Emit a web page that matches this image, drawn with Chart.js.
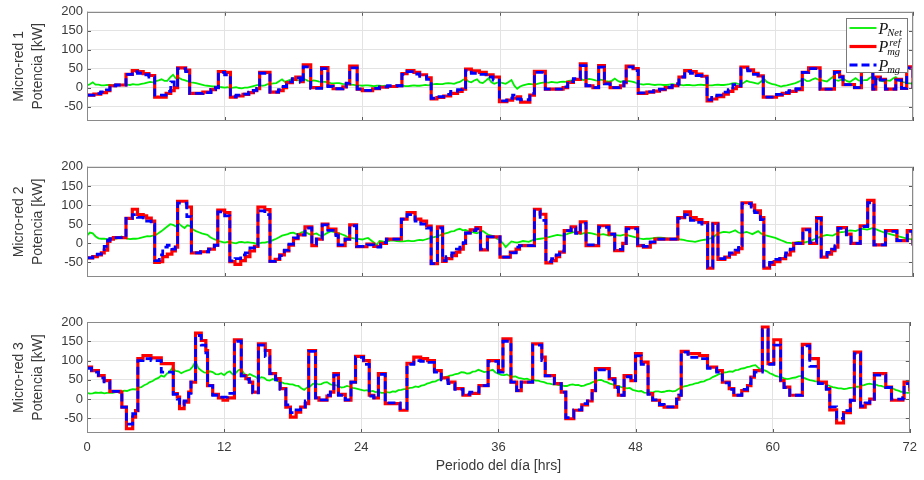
<!DOCTYPE html>
<html>
<head>
<meta charset="utf-8">
<script src="https://cdn.jsdelivr.net/npm/chart.js@4/dist/chart.umd.min.js"></script>
<style>
  html, body { margin: 0; padding: 0; background: #ffffff; }
  #wrap { position: relative; width: 924px; height: 480px; }
  #wrap canvas { position: absolute; left: 0; }
</style>
</head>
<body>
<div id="wrap">
  <canvas id="mg1" width="924" height="155" style="top:0px"></canvas>
  <canvas id="mg2" width="924" height="155" style="top:155px"></canvas>
  <canvas id="mg3" width="924" height="170" style="top:310px"></canvas>
</div>
<script>
// ---------------- data ----------------
// Axis ticks
const hourTicks = [0, 12, 24, 36, 48, 60, 72];
const powerTicks = [-50, 0, 50, 100, 150, 200];
const netSampleHrs = 0.25;          // P_Net sampled every quarter hour

// Micro-red 1: switching instants [h], reference and measured power [kW]
const mg1Time = [0,0.6,1.2,1.7,2.0,2.5,3.4,3.95,4.4,4.9,
  5.4,5.9,6.9,7.3,7.6,7.9,8.6,8.95,10.1,10.8,
  11.2,11.45,12.0,12.5,13.0,13.6,14.1,14.5,14.8,15.05,
  15.95,16.7,17.1,17.4,17.9,18.2,18.6,18.85,19.5,20.45,
  21.0,21.45,22.3,22.6,22.9,23.55,24.0,24.9,25.5,26.2,
  27.0,27.45,27.9,28.5,29.0,29.6,30.0,30.5,31.1,31.7,
  32.3,32.7,33.0,33.5,34.2,34.8,35.4,35.95,36.6,37.1,
  37.5,37.8,38.6,39.0,39.95,41.5,41.9,42.4,43.0,43.5,
  44.1,44.6,45.1,45.6,46.5,46.8,47.0,47.6,48.05,48.8,
  49.4,49.9,50.4,51.0,51.5,51.6,52.1,52.6,53.1,53.6,
  54.05,54.45,54.9,55.5,55.9,56.3,56.6,57.0,57.6,58.1,
  58.5,58.95,60.1,60.6,61.2,61.8,62.35,62.9,63.9,65.15,
  65.6,65.9,66.9,67.5,68.5,68.75,69.15,69.6,70.5,71.0,
  71.45,72];
const mg1Ref = [-20,-17,-13,-8,5,7,35,45,42,37,
  32,-25,-15,-8,0,52,46,-15,-12,-5,
  0,42,40,-25,-22,-18,-13,-8,-3,40,
  -12,-8,0,13,22,28,16,60,0,53,
  5,-3,2,10,57,-4,-8,-3,1,3,
  5,37,45,40,34,26,-30,-26,-22,-15,
  -10,-4,49,44,40,34,28,-37,-33,-28,
  -24,-38,-20,43,-4,0,14,22,63,5,
  0,58,12,0,5,13,57,50,-15,-12,
  -9,-5,0,5,10,28,45,42,36,30,
  -35,-30,-24,-17,-10,-3,3,54,47,38,
  31,-25,-20,-15,-10,-5,40,52,-4,42,
  30,8,0,43,-4,28,22,-4,22,-2,
  55,-3];
const mg1Pmg = [-20,-16,-11,-6,5,7,35,42,38,34,
  28,-20,-10,15,2,50,42,-15,-13,-5,
  0,40,34,-24,-20,-17,-12,-7,-2,38,
  -12,-5,3,15,24,26,14,55,-2,50,
  3,-3,2,12,52,-4,-7,-2,2,5,
  5,35,42,36,30,22,-28,-24,-18,-10,
  -5,0,45,38,35,28,20,-35,-28,-20,
  -30,-32,-15,40,-4,2,16,24,58,5,
  0,54,10,0,5,15,55,45,-14,-11,
  -8,-4,1,6,10,28,43,38,32,26,
  -32,-26,-20,-12,-5,8,5,50,44,35,
  28,-25,-18,-13,-8,-3,40,50,-4,40,
  28,8,0,42,-4,26,20,-4,20,-2,
  52,-3];
const mg1Net = [
  6,9,14,8,8,6,6,7,  7,6,8,7,7,8,8,7,  9,8,8,10,11,13,15,14,
  17,19,22,18,18,27,34,24,  26,22,20,17,14,13,12,10,  8,6,5,4,3,3,2,1,
  0,1,-1,0,1,-1,-2,0,  0,2,4,6,8,5,6,9,  10,11,12,17,22,15,18,21,
  25,19,20,23,22,18,17,19,  18,16,15,15,14,12,11,12,  12,10,9,9,8,7,6,6,
  5,6,6,5,4,5,5,4,  5,4,3,4,5,6,5,4,  4,5,6,5,5,6,7,6,
  8,9,10,9,9,11,12,11,  10,13,15,20,24,16,14,19,  22,14,12,18,25,14,10,13,
  14,12,10,15,20,5,-3,3,  6,8,10,9,8,10,12,13,  14,13,15,14,13,15,16,15,
  18,19,20,22,24,20,21,23,  22,20,18,21,20,17,16,18,  24,18,15,17,18,17,16,14,
  10,9,8,9,9,8,7,8,  8,7,7,8,9,8,8,7,  6,7,7,6,6,7,8,7,
  7,6,6,7,8,7,7,8,  9,11,12,10,8,13,18,15,  14,12,10,16,24,15,12,9,
  8,5,3,5,6,8,10,12,  15,19,22,17,18,22,25,21,  20,18,16,22,28,20,18,21,
  22,17,15,20,25,19,18,20,  20,26,30,24,22,18,16,19,  18,24,28,19,15,14,12,11,
  10];

// Micro-red 2
const mg2Time = [0,0.5,0.9,1.25,1.5,1.8,2.0,2.3,3.4,3.95,
  4.4,4.9,5.2,5.6,5.9,6.3,6.6,7.0,7.4,7.7,
  7.9,8.7,9.1,9.9,10.6,11.1,11.4,12.0,12.45,12.9,
  13.4,13.8,14.2,14.6,14.9,15.5,15.95,16.4,16.8,17.2,
  17.6,18.0,18.4,19.0,19.6,20.0,20.5,21.0,21.7,21.9,
  22.5,22.9,23.5,24.4,25.0,25.6,26.1,27.4,27.9,28.6,
  29.1,29.6,30.0,30.55,31.0,31.3,31.8,32.2,32.5,32.8,
  33.0,33.4,33.9,34.3,34.9,36.0,36.9,37.4,37.7,39.0,
  39.5,40.0,40.5,40.9,41.2,41.6,42.2,42.6,43.0,43.5,
  44.6,45.5,46.0,46.7,47.0,48.0,48.5,49.1,49.5,51.5,
  52.1,52.6,53.1,53.6,54.1,54.55,55.0,55.6,56.0,56.5,
  56.8,57.1,57.9,58.2,58.7,59.0,59.5,59.9,60.4,60.9,
  61.3,61.6,62.4,63.0,63.6,64.0,64.5,64.9,65.2,65.45,
  66.2,66.6,67.4,68.05,68.6,69.6,70.6,71.5,72];
const mg2Ref = [-38,-35,-30,-25,-18,5,11,15,65,89,
  75,72,66,58,-50,-48,-35,-28,-20,-10,
  110,95,-25,-22,-15,-5,87,80,-48,-55,
  -45,-35,-20,-8,95,88,-47,-42,-30,-20,
  -5,12,22,43,-6,11,50,37,24,-6,
  11,48,-9,-2,-8,0,11,63,80,63,
  58,45,-53,43,-47,-40,-32,-23,-15,0,
  27,35,41,-17,17,-36,-23,-15,-6,89,
  76,-51,-45,-35,-23,33,43,28,56,-6,
  46,24,-19,0,41,-6,-10,2,11,67,
  82,67,62,54,-65,52,-42,-36,-28,-23,
  -14,106,100,85,67,-65,-55,-48,-40,-30,
  -20,0,37,0,67,-36,-28,-19,-10,41,
  24,0,46,112,-4,33,7,33,-6];
const mg2Pmg = [-38,-30,-28,-22,-8,8,12,15,65,75,
  68,63,58,50,-45,-30,-10,-5,-15,-5,
  105,70,-25,-22,-15,-5,82,72,-46,-40,
  -30,-25,-12,-5,85,75,-47,-40,-32,-18,
  -2,14,22,40,-2,11,48,34,20,-4,
  11,46,-8,-4,-10,2,11,63,75,58,
  50,40,-53,40,-45,-35,-25,-15,-10,2,
  27,33,38,-15,17,-36,-25,-10,-6,85,
  60,-48,-40,-30,-20,33,40,26,52,-4,
  42,24,-16,0,38,-6,-8,4,11,65,
  75,60,55,50,-62,50,-40,-32,-25,-18,
  -5,104,85,80,62,-60,-50,-42,-35,-25,
  -15,0,35,2,65,-34,-24,-15,-6,39,
  22,0,44,106,-4,31,7,31,-6];
const mg2Net = [
  20,28,26,18,13,12,12,11,  11,13,12,14,18,15,12,11,  12,12,13,15,17,19,18,20,
  22,27,32,38,44,50,48,44,  52,45,40,47,45,36,32,29,  26,24,22,16,12,9,6,4,
  2,4,3,1,0,3,4,2,  3,2,1,-1,0,2,2,4,  5,9,12,16,20,22,24,27,
  28,24,25,29,30,26,22,24,  26,21,18,24,28,32,30,27,  26,23,20,16,14,13,12,11,
  10,12,14,8,2,-4,6,5,  4,6,8,7,6,5,5,6,  7,6,6,8,9,8,10,12,
  14,16,18,21,24,26,28,31,  32,36,38,34,35,32,30,28,  26,30,32,27,22,20,18,12,
  8,0,-10,-2,5,3,2,4,  6,5,4,7,10,11,12,13,  14,16,18,20,22,21,20,23,
  26,28,30,27,24,26,28,27,  26,24,22,23,24,22,20,21,  22,21,20,22,23,20,18,16,
  14,12,11,12,12,13,14,15,  15,14,13,12,11,12,12,10,  9,7,6,5,4,6,8,9,
  10,12,14,20,26,28,30,29,  28,31,34,29,26,28,30,27,  24,28,32,26,22,20,18,16,
  14,11,8,5,2,1,0,2,  4,3,2,4,6,9,12,15,  18,20,22,21,20,24,28,29,
  30,32,34,33,32,35,38,37,  36,38,40,37,34,31,28,26,  24,22,20,18,16,14,12,11,
  10];

// Micro-red 3
const mg3Time = [0,0.4,1.0,1.5,2.0,2.9,3.05,3.45,4.0,4.25,
  4.45,4.9,5.6,6.5,7.55,7.9,8.1,8.5,8.9,9.1,
  9.5,10.0,10.4,10.55,11.0,11.5,11.9,12.3,12.9,13.5,
  13.9,14.2,14.5,15.0,15.6,16.0,16.5,16.9,17.4,17.8,
  18.3,18.7,19.1,19.4,20.0,20.3,21.0,21.3,21.6,22.0,
  22.6,23.1,23.5,24.2,24.7,25.1,25.5,26.1,27.4,28.0,
  28.6,29.2,29.8,30.4,31.0,31.6,32.2,32.9,33.5,34.3,
  35.1,36.0,36.4,37.1,37.6,38.0,39.0,39.8,40.1,40.9,
  41.5,41.9,42.6,43.3,43.8,44.2,44.5,45.7,46.2,46.5,
  47.0,47.6,48.0,48.5,49.1,49.5,50.1,50.5,51.6,51.8,
  52.0,52.6,53.6,54.3,55.1,55.6,56.2,56.6,57.3,57.8,
  58.1,58.4,59.1,59.6,60.1,60.7,61.0,61.5,62.6,63.25,
  64.0,64.7,65.0,65.6,66.2,66.8,67.15,67.7,68.1,68.5,
  68.9,69.9,70.4,71.4,71.5,72];
const mg3Ref = [83,74,61,48,20,18,-21,-77,-47,-30,
  105,113,107,92,14,5,-25,-8,18,44,
  171,152,126,35,12,3,-3,3,154,61,
  53,44,18,143,126,66,53,27,-21,-47,
  -34,-21,-12,126,3,-3,8,18,66,12,
  -3,44,111,100,10,3,66,-12,-29,93,
  109,105,100,74,55,44,27,10,15,35,
  100,74,156,44,22,44,143,109,61,40,
  18,-51,-29,-15,-5,22,79,53,31,10,
  61,48,118,96,14,-3,-16,-21,0,10,
  124,118,113,83,74,44,27,10,22,35,
  57,74,187,92,154,48,31,10,142,105,
  44,27,-28,-62,-35,-3,122,-21,-12,0,
  66,31,-3,3,44,20];
const mg3Pmg = [80,70,55,45,20,16,-21,-65,-38,-30,
  100,105,100,70,12,0,-15,-5,15,44,
  165,140,120,35,10,5,5,15,150,60,
  52,44,16,140,110,66,50,25,-15,-35,
  -28,-20,-5,124,3,-2,10,18,62,10,
  -2,44,108,90,8,3,64,-10,-25,90,
  100,98,95,70,50,40,25,12,18,35,
  98,70,150,44,22,44,140,100,60,40,
  18,-48,-28,-12,0,22,76,50,30,10,
  58,48,112,90,12,-2,-14,-20,0,10,
  122,108,105,80,70,42,25,10,25,40,
  55,70,180,90,140,45,30,10,138,85,
  40,25,-20,-50,-30,-3,118,-18,-10,0,
  62,30,0,3,40,20];
const mg3Net = [
  16,14,15,17,16,17,15,16,  17,16,18,20,19,22,21,24,  26,25,30,31,36,39,44,47,
  52,55,61,58,66,72,82,73,  72,67,71,74,76,84,98,80,  74,69,68,72,70,65,64,67,
  62,69,72,64,67,75,78,66,  60,65,61,58,52,57,55,49,  48,52,49,46,44,41,40,38,
  38,35,34,28,24,30,32,39,  42,38,39,43,44,39,36,36,  34,30,31,34,32,29,28,26,
  24,22,23,20,21,18,19,16,  16,18,17,20,19,23,24,26,  26,29,30,33,31,35,36,40,
  42,45,46,50,52,56,58,61,  62,65,66,70,69,66,67,71,  72,76,73,70,71,74,76,69,
  66,63,62,64,60,58,59,55,  54,52,53,50,51,48,48,45,  44,41,40,38,39,36,36,34,
  34,37,38,36,37,34,35,38,  40,44,46,49,50,46,44,40,  38,35,34,31,30,28,29,24,
  22,20,21,17,16,18,17,20,  20,18,19,21,22,20,21,26,  30,33,34,37,38,41,42,45,
  46,50,52,57,60,64,66,69,  70,72,71,75,76,79,80,83,  84,87,88,81,76,75,72,67,
  64,60,58,57,54,52,53,55,  56,59,60,55,52,49,48,46,  46,43,42,37,34,31,30,28,
  28,26,27,29,30,32,32,35,  36,39,40,38,38,35,34,32,  32,29,28,24,22,19,18,16,
  16];

// Legend entries: base symbol with subscript / superscript
const legendLabels = [
  { base: 'P', sub: 'Net' },
  { base: 'P', sub: 'mg', sup: 'ref' },
  { base: 'P', sub: 'mg' }
];
const xTitle = 'Periodo del día [hrs]';
const yTitleLine2 = 'Potencia [kW]';

// ---------------- drawing ----------------
const SANS = "'Liberation Sans', Arial, Helvetica, sans-serif";
const SERIF = "'Liberation Serif', 'Times New Roman', serif";
const TEXT = '#3a3a3a';
const GRID = '#e3e3e3';

function pairs(times, values) {
  return values.map((v, i) => ({ x: times[i], y: v }));
}
function netPoints(values) {
  return values.map((v, i) => ({ x: i * netSampleHrs, y: v }));
}

// Box around the axes plus short inward tick marks on all four sides
const framePlugin = {
  id: 'axesFrame',
  afterDraw(chart) {
    const { ctx, chartArea: a, scales } = chart;
    ctx.save();
    ctx.lineWidth = 1;
    ctx.strokeStyle = '#5c5c5c';
    ctx.beginPath();
    hourTicks.forEach(h => {
      const px = Math.round(scales.x.getPixelForValue(h)) + 0.5;
      ctx.moveTo(px, a.top); ctx.lineTo(px, a.top + 4);
      ctx.moveTo(px, a.bottom); ctx.lineTo(px, a.bottom - 4);
    });
    powerTicks.forEach(p => {
      const py = Math.round(scales.y.getPixelForValue(p)) + 0.5;
      ctx.moveTo(a.left, py); ctx.lineTo(a.left + 4, py);
      ctx.moveTo(a.right, py); ctx.lineTo(a.right - 4, py);
    });
    ctx.stroke();
    ctx.strokeStyle = '#8a8a8a';
    ctx.strokeRect(Math.round(a.left) + 0.5, Math.round(a.top) + 0.5,
      Math.round(a.right - a.left) - 1, Math.round(a.bottom - a.top) - 1);
    ctx.restore();
  }
};

// Legend with math-style labels (italic P with sub/superscripts)
const mathLegend = {
  id: 'mathLegend',
  afterDraw(chart) {
    const { ctx, chartArea: a } = chart;
    const w = 61, h = 54;
    const bx = Math.round(a.right) - 6 - w + 0.5;
    const by = Math.round(a.top) + 6 + 0.5;
    ctx.save();
    ctx.fillStyle = '#ffffff';
    ctx.fillRect(bx, by, w, h);
    ctx.strokeStyle = '#7a7a7a';
    ctx.lineWidth = 1;
    ctx.strokeRect(bx, by, w, h);
    const rowH = 18.5;
    chart.data.datasets.forEach((ds, i) => {
      const cy = by + 9.5 + i * rowH;
      ctx.save();
      ctx.strokeStyle = ds.borderColor;
      ctx.lineWidth = ds.borderWidth;
      ctx.setLineDash(ds.borderDash || []);
      ctx.beginPath();
      ctx.moveTo(bx + 3, cy);
      ctx.lineTo(bx + 30, cy);
      ctx.stroke();
      ctx.restore();
      const lab = legendLabels[i];
      const tx = bx + 32;
      ctx.fillStyle = '#111111';
      ctx.textBaseline = 'alphabetic';
      ctx.textAlign = 'left';
      ctx.font = 'italic 16px ' + SERIF;
      ctx.fillText(lab.base, tx, cy + 5.5);
      const bw = ctx.measureText(lab.base).width;
      ctx.font = 'italic 10.5px ' + SERIF;
      if (lab.sup) {
        ctx.fillText(lab.sup, tx + bw + 1, cy - 1);
        ctx.fillText(lab.sub, tx + bw - 1, cy + 8.5);
      } else {
        ctx.fillText(lab.sub, tx + bw - 1, cy + 8);
      }
    });
    ctx.restore();
  }
};

function makePanel(id, n, time, ref, pmg, net, layout) {
  const showX = layout.showX;
  const plugins = [framePlugin];
  if (layout.legend) plugins.push(mathLegend);
  return new Chart(document.getElementById(id), {
    type: 'line',
    data: {
      datasets: [
        { label: 'P_Net', data: netPoints(net), borderColor: '#00ee00', borderWidth: 1.8,
          pointRadius: 0, tension: 0, order: 3 },
        { label: 'P_mg^ref', data: pairs(time, ref), borderColor: '#ff0000', borderWidth: 3.2,
          stepped: true, pointRadius: 0, order: 2 },
        { label: 'P_mg', data: pairs(time, pmg), borderColor: '#0000ff', borderWidth: 2.8,
          borderDash: [8, 4], stepped: true, pointRadius: 0, order: 1 }
      ]
    },
    options: {
      responsive: false,
      animation: false,
      events: [],
      layout: { padding: { top: layout.top, right: 11, left: 0, bottom: 0 } },
      plugins: { legend: { display: false }, tooltip: { enabled: false } },
      scales: {
        x: {
          type: 'linear', min: 0, max: 72,
          afterBuildTicks(s) { s.ticks = hourTicks.map(v => ({ value: v })); },
          ticks: { display: showX, padding: 7, color: TEXT, maxRotation: 0, autoSkip: false,
                   font: { family: SANS, size: 13 } },
          grid: { color: GRID, drawTicks: false, lineWidth: 1 },
          border: { display: false },
          title: { display: showX, text: xTitle, color: TEXT,
                   font: { family: SANS, size: 14 }, padding: { top: 0, bottom: 5 } },
          afterFit(s) { s.height = layout.xh; }
        },
        y: {
          type: 'linear', min: -88, max: 200,
          afterBuildTicks(s) { s.ticks = powerTicks.map(v => ({ value: v })); },
          ticks: { padding: 4, color: TEXT, font: { family: SANS, size: 13 } },
          grid: { color: GRID, drawTicks: false, lineWidth: 1 },
          border: { display: false },
          title: { display: true, text: ['Micro-red ' + n, yTitleLine2], color: TEXT,
                   font: { family: SANS, size: 14, lineHeight: 19 / 14 },
                   padding: { top: 9.5, bottom: 0 } },
          afterFit(s) { s.width = 87; }
        }
      }
    },
    plugins
  });
}

makePanel('mg1', 1, mg1Time, mg1Ref, mg1Pmg, mg1Net, { top: 9, xh: 34, showX: false, legend: true });
makePanel('mg2', 2, mg2Time, mg2Ref, mg2Pmg, mg2Net, { top: 10, xh: 33, showX: false });
makePanel('mg3', 3, mg3Time, mg3Ref, mg3Pmg, mg3Net, { top: 12, xh: 47, showX: true });
</script>
</body>
</html>
